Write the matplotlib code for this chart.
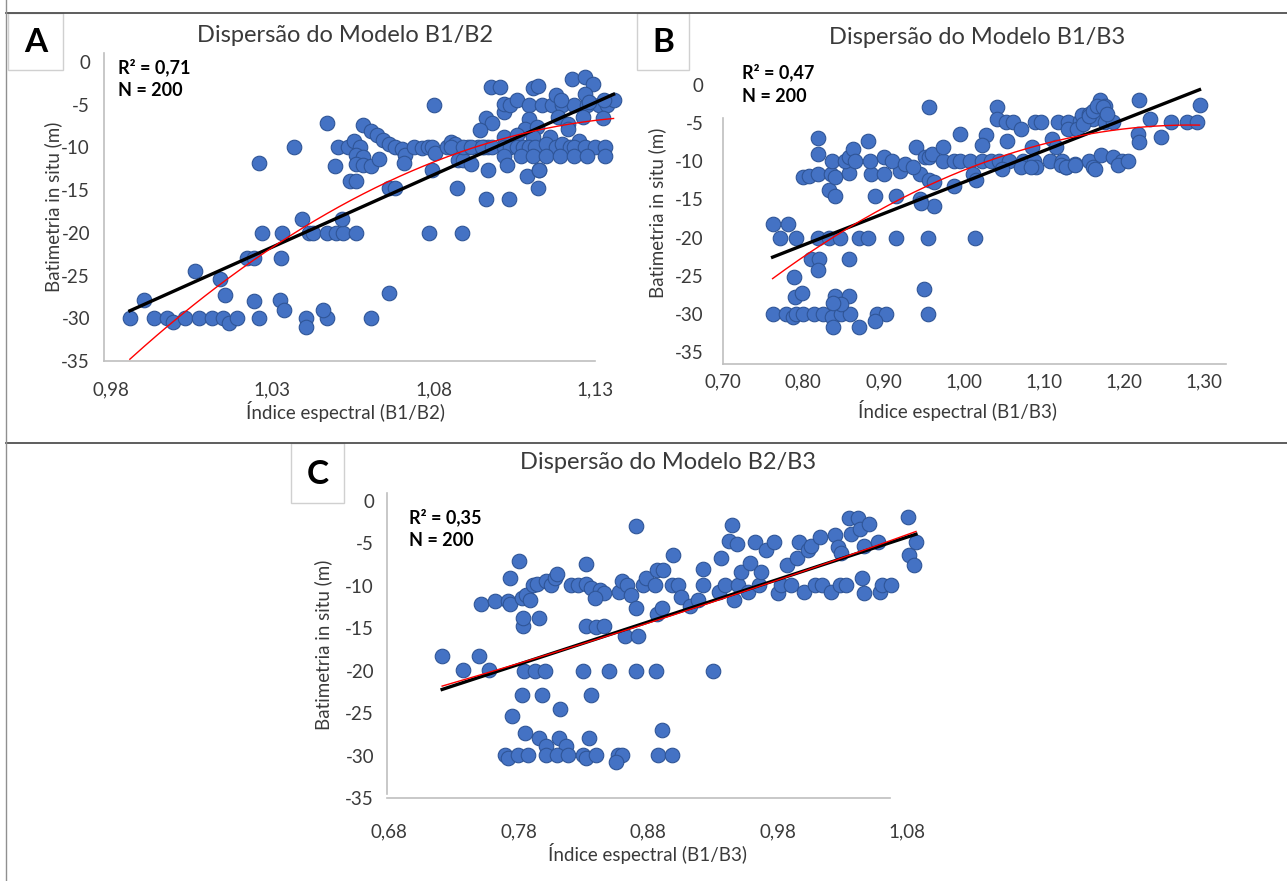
import numpy as np
import matplotlib
matplotlib.use('Agg')
import matplotlib.pyplot as plt
from matplotlib.patches import Rectangle
from matplotlib.lines import Line2D

plt.rcParams['font.family'] = ['Lato', 'DejaVu Sans']

# ---- dados ----
y_ticks = [0, -5, -10, -15, -20, -25, -30, -35]
a_ticks = [0.98, 1.03, 1.08, 1.13]
b_ticks = [0.70, 0.80, 0.90, 1.00, 1.10, 1.20, 1.30]
c_ticks = [0.68, 0.78, 0.88, 0.98, 1.08]

a_x = [0.986, 0.9936, 0.9975, 0.9994, 1.0032, 1.0073, 1.0115, 1.0147, 1.0166, 1.0191, 1.0261, 1.0405, 1.0469, 1.0605, 1.0405,
       0.9904, 1.0245, 1.0325, 1.0338, 1.0459, 1.0663, 1.0061, 1.0138, 1.0153, 1.0223, 1.0245, 1.0327,
       1.0268, 1.0331, 1.0414, 1.0427, 1.0469, 1.0497, 1.0520, 1.0561, 1.0787, 1.0889,
       1.0392, 1.0516, 1.0259, 1.0367, 1.0471, 1.0494, 1.0541, 1.0561,
       1.0503, 1.0535, 1.0554, 1.0573, 1.0561, 1.0580, 1.0561, 1.0580, 1.0605, 1.0631,
       1.0582, 1.0605, 1.0624, 1.0643, 1.0662, 1.0682, 1.0701, 1.0713, 1.0739, 1.0764, 1.0784, 1.0796, 1.0803, 1.0707,
       1.0662, 1.0682, 1.0800, 1.0796,
       1.0841, 1.0854, 1.0866, 1.0877, 1.0892, 1.0917, 1.0905, 1.0936, 1.0956, 1.0968,
       1.0873, 1.0962, 1.1032, 1.0968, 1.0978, 1.1006, 1.0962, 1.0981, 1.0943,
       1.1019, 1.1019, 1.1038, 1.1057, 1.1089, 1.1127, 1.1124, 1.1108, 1.1124,
       1.1096, 1.1134, 1.1166, 1.1198, 1.1236, 1.1274, 1.1312, 1.1338, 1.1357,
       1.1178, 1.1195, 1.1229, 1.1268, 1.1293, 1.1268, 1.1280, 1.1327,
       1.1096, 1.1185, 1.1217, 1.1261, 1.1325, 1.1083, 1.1121, 1.1217,
       1.1019, 1.1057, 1.1108, 1.1159, 1.1249,
       1.0854, 1.0892, 1.0917, 1.0949, 1.0981, 1.1019, 1.1038, 1.1057, 1.1077, 1.1096,
       1.1115, 1.1147, 1.1178, 1.1198, 1.1223, 1.1236, 1.1268, 1.1300, 1.1331,
       1.1019, 1.1070, 1.1108, 1.1147, 1.1191, 1.1236, 1.1274, 1.1331, 1.1026, 1.1127]
a_y = [-30, -30, -30, -30.4, -30, -30, -30, -30, -30.5, -30, -30, -30, -30, -30, -31,
       -27.9, -28, -27.9, -29, -29, -27, -24.5, -25.4, -27.3, -22.9, -22.9, -22.9,
       -20, -20, -20, -20, -20, -20, -20, -20, -20, -20,
       -18.4, -18.4, -11.8, -10, -7.1, -12.2, -13.9, -13.9,
       -10, -10, -9.2, -10, -10.9, -11.1, -11.9, -12.1, -12.2, -11.4,
       -7.4, -8.1, -8.6, -9.1, -9.6, -10, -10.2, -10.9, -10, -10.1, -10, -10, -10.7, -11.8,
       -14.7, -14.8, -5, -12.6,
       -10, -9.4, -9.6, -11.5, -11.5, -11.9, -10, -10, -10, -10,
       -14.8, -16, -16, -12.6, -2.9, -2.9, -6.6, -7.2, -8,
       -5.9, -4.9, -5, -4.5, -13.3, -12.6, -14.8, -3, -2.8,
       -5, -5, -5, -5, -5, -5, -5, -5, -4.5,
       -3.9, -4.5, -2.0, -1.8, -2.6, -3.7, -4.7, -4.5,
       -6.7, -6.4, -7.3, -6.4, -6.6, -7.8, -7.6, -7.8,
       -8.8, -8.6, -8.8, -8.8, -9.2,
       -10, -10, -10, -10, -10, -10, -10, -10, -10, -10,
       -10, -9.6, -10, -9.6, -10, -10, -10, -10, -10,
       -11, -11, -11, -11, -11, -11, -11, -11, -12.1, -12.7]

b_x = [0.7618, 0.7781, 0.7873, 0.7909, 0.8001, 0.8139, 0.8241, 0.8353, 0.8471, 0.8588, 0.8915, 0.9033, 0.9559,
       0.8895, 0.8369, 0.8701, 0.7894, 0.7986, 0.8394, 0.8573, 0.8471, 0.8369, 0.9508,
       0.7884, 0.8098, 0.8200, 0.8573, 0.8190,
       0.7705, 0.7909, 0.8190, 0.8318, 0.8456, 0.8701, 0.8803, 0.9160, 0.9559, 1.0141,
       0.7618, 0.7807, 0.8318, 0.8394, 0.8890, 0.9160, 0.9452, 0.9630, 0.9467,
       0.8001, 0.8078, 0.8180, 0.8343, 0.8394, 0.8573, 0.8839, 0.9007, 0.9201, 0.9457,
       0.8359, 0.8522, 0.8573, 0.8624, 0.8650, 0.8828, 0.9007, 0.9109, 0.9263, 0.9365, 0.9406, 0.9518, 0.9569, 0.9610,
       0.9748, 0.9875, 0.9952, 1.0080, 1.0233, 1.0335, 1.0437, 1.0565, 1.0744, 1.0871,
       1.0907, 1.1076, 1.1229, 1.1280, 1.1382, 1.1561, 1.1612, 1.1714, 1.1867, 1.1969,
       0.8190, 0.8190, 0.8803, 0.9748,
       0.9569, 1.0412, 1.2184, 1.1704, 1.2940, 1.1765,
       1.0412, 1.0529, 1.0616, 1.0887, 1.0958, 1.1178, 1.1305, 1.1448, 1.1612, 1.1765, 1.1867, 1.2327, 1.2582, 1.2787, 1.2914,
       1.1469, 1.1561, 1.0718, 1.1305, 0.9952, 1.0274, 1.0539, 1.1101, 1.0223, 1.0846, 1.1152,
       1.1637, 1.1929, 1.2046, 1.2174, 1.2189, 1.2455,
       0.9569, 0.9630, 1.0121, 1.0156, 0.9875, 1.0473, 1.0718, 1.0836, 1.1213, 1.1280, 1.1382,
       1.1408, 1.1484, 1.1561, 1.1612, 1.1663, 1.1740, 1.1791]
b_y = [-30, -30, -30.4, -30, -30, -30, -30, -30.4, -30, -30, -30, -30, -30,
       -30.9, -31.7, -31.7, -27.8, -27.3, -27.6, -27.6, -28.7, -28.6, -26.8,
       -25.2, -22.8, -22.8, -22.8, -24.3,
       -20, -20, -20, -20, -20, -20, -20, -20, -20, -20,
       -18.2, -18.2, -13.8, -14.6, -14.6, -14.6, -14.9, -15.8, -15.5,
       -12.0, -11.9, -11.6, -11.6, -12.0, -11.5, -11.6, -11.6, -11.3, -11.6,
       -10, -10, -9.4, -8.4, -10, -10, -9.5, -10, -10.4, -10.7, -8.1, -9.4, -9.4, -9.1,
       -10, -10, -10, -10, -10, -10, -10, -10, -10, -10,
       -10.7, -10, -10, -10.7, -10.3, -10, -10.7, -9.2, -9.5, -10,
       -9.1, -6.9, -7.4, -8.1,
       -2.9, -2.9, -1.9, -2.0, -2.6, -2.8,
       -4.5, -4.9, -4.9, -4.9, -4.9, -4.9, -4.9, -4.7, -4.5, -4.8, -4.9, -4.5, -4.9, -4.9, -4.9,
       -3.9, -3.8, -5.8, -5.8, -6.4, -6.6, -7.3, -7.1, -7.8, -8.1, -8.1,
       -11.0, -10.5, -9.9, -6.4, -7.5, -6.8,
       -12.5, -12.7, -11.7, -12.5, -13.3, -11.0, -10.7, -10.7, -10.5, -10.7, -10.5,
       -5.8, -5.1, -4.0, -3.4, -2.7, -2.9, -3.8]

c_x = [0.7209, 0.7371, 0.7493, 0.7569, 0.7510, 0.7614, 0.7718, 0.7735, 0.7735, 0.7804,
       0.7839, 0.7926, 0.8005, 0.8296, 0.8497, 0.8705, 0.8861, 0.9300,
       0.7822, 0.7984, 0.7752, 0.8116, 0.8358,
       0.7849, 0.7960, 0.8109, 0.8341, 0.8906, 0.8012, 0.8168,
       0.7694, 0.7718, 0.7797, 0.7874, 0.8012, 0.8099, 0.8178, 0.8296, 0.8324, 0.8400, 0.8566, 0.8601, 0.8878, 0.8982, 0.8549,
       0.7832, 0.7832, 0.7960, 0.8317, 0.8400, 0.8462, 0.8618, 0.8722,
       0.7822, 0.7856, 0.7891, 0.7908, 0.7943, 0.8012, 0.8047, 0.8081, 0.8099,
       0.8203, 0.8261, 0.8317, 0.8324, 0.8358, 0.8428, 0.8462, 0.8393, 0.8573, 0.8601, 0.8635, 0.8670, 0.8705,
       0.8757, 0.8781, 0.8850, 0.8871, 0.8913, 0.8871, 0.8906, 0.8982, 0.9034, 0.9051, 0.9120, 0.9183, 0.9224, 0.8989, 0.9224, 0.8705,
       0.9345, 0.9363, 0.9397, 0.9425, 0.9449, 0.9460, 0.9484, 0.9494, 0.9519, 0.9571, 0.9588, 0.9623, 0.9657, 0.9674, 0.9709, 0.9771,
       0.9806, 0.9830, 0.9875, 0.9900, 0.9951, 0.9969, 1.0003, 1.0038, 1.0055, 1.0090, 1.0125, 1.0142, 1.0211, 1.0246, 1.0263, 1.0280, 1.0291,
       1.0332, 1.0350, 1.0367, 1.0419, 1.0436, 1.0454, 1.0471, 1.0471, 1.0506, 1.0575, 1.0592, 1.0609, 1.0679, 1.0810, 1.0817, 1.0852, 1.0869]
c_y = [-18.3, -19.9, -18.3, -19.9, -12.2, -11.8, -11.8, -12.2, -9.1, -7.1,
       -20, -20, -20, -20, -20, -20, -20, -20,
       -22.9, -22.9, -25.4, -24.5, -22.9,
       -27.3, -27.9, -27.9, -27.9, -27.0, -28.9, -28.9,
       -29.9, -30.3, -29.9, -29.9, -29.9, -29.9, -29.9, -29.9, -30.3, -29.9, -29.9, -29.9, -29.9, -29.9, -30.8,
       -14.8, -13.8, -13.8, -14.8, -14.9, -14.8, -15.9, -15.9,
       -11.5, -11.1, -11.7, -9.9, -9.8, -9.5, -9.9, -9.1, -8.6,
       -9.9, -9.9, -7.5, -9.8, -10.3, -10.5, -10.9, -11.5, -10.7, -9.5, -9.9, -11.1, -12.6,
       -9.9, -9.1, -9.9, -8.2, -8.2, -13.4, -12.6, -9.9, -9.9, -11.3, -12.4, -11.7, -9.9, -6.4, -8.0, -3.0,
       -10.7, -6.8, -9.9, -4.7, -2.9, -11.7, -5.1, -9.9, -8.4, -10.7, -7.3, -4.9, -9.9, -8.4, -5.8, -4.9,
       -10.9, -9.9, -7.6, -9.9, -6.8, -4.9, -10.7, -5.8, -5.3, -9.9, -4.3, -9.9, -10.7, -4.1, -5.4, -9.9, -6.2,
       -9.9, -2.1, -3.9, -2.1, -3.3, -9.1, -10.9, -5.3, -2.8, -4.9, -10.7, -9.9, -9.9, -1.9, -6.4, -7.6, -4.9]

# ---- layout (pixels) ----
W, H = 1287, 881
fig = plt.figure(figsize=(W / 100, H / 100), dpi=100)
fig.patch.set_facecolor('white')


def fx(px):
    return px / W


def fy(py):
    return 1 - py / H


def fmt(v):
    return f'{v:.2f}'.replace('.', ',')


panels = [
    dict(letter='A', title='Dispersão do Modelo B1/B2', xlabel='Índice espectral (B1/B2)',
         x=a_x, y=a_y, r2='0,71', ticks=a_ticks, xlim=(0.978, 1.138), ylim=(-35, 1.05),
         box=(104, 53, 621, 361), xspan=(0.978, 1.13), yspan=(-35, 1.05),
         title_xy=(345, 35), xlab_xy=(346, 412), ylab_xy=(53, 207), r2_xy=(118, 67),
         letter_box=(8, 13, 63, 70), xpad=15, ypad=10),
    dict(letter='B', title='Dispersão do Modelo B1/B3', xlabel='Índice espectral (B1/B3)',
         x=b_x, y=b_y, r2='0,47', ticks=b_ticks, xlim=(0.70, 1.327), ylim=(-36.57, 3.28),
         box=(723, 60, 1226, 364), xspan=(0.70, 1.327), yspan=(-36.57, -4.3),
         title_xy=(977, 37), xlab_xy=(957, 410), ylab_xy=(657, 213), r2_xy=(742, 72),
         letter_box=(637, 13, 689, 70), xpad=7, ypad=14),
    dict(letter='C', title='Dispersão do Modelo B2/B3', xlabel='Índice espectral (B1/B3)',
         x=c_x, y=c_y, r2='0,35', ticks=c_ticks, xlim=(0.678, 1.09), ylim=(-34.5, 0.9),
         box=(386.6, 493, 920, 798), xspan=(0.678, 1.067), yspan=(-34.5, 0.9),
         title_xy=(668, 463), xlab_xy=(647, 853), ylab_xy=(323, 645), r2_xy=(409, 517),
         letter_box=(291, 443, 344, 503), xpad=18, ypad=9),
]

txt_color = '#3a3a3a'
for p in panels:
    l, t, r, b = p['box']
    ax = fig.add_axes([fx(l), fy(b), fx(r) - fx(l), fy(t) - fy(b)])
    ax.set_facecolor('none')
    ax.scatter(p['x'], p['y'], s=110, color='#4472c4', edgecolor='#2f5597',
               linewidth=0.8, zorder=2, clip_on=False)

    # linhas de tendência (linear e polinomial de 2ª ordem)
    xs = np.linspace(min(p['x']), max(p['x']), 200)
    lin = np.polyfit(p['x'], p['y'], 1)
    quad = np.polyfit(p['x'], p['y'], 2)
    ax.plot(xs, np.polyval(lin, xs), color='black', lw=2.4, zorder=3)
    ax.plot(xs, np.polyval(quad, xs), color='#ff0000', lw=1.0, zorder=4)

    ax.set_xlim(*p['xlim'])
    ax.set_ylim(*p['ylim'])
    ax.set_xticks(p['ticks'])
    ax.set_xticklabels([fmt(v) for v in p['ticks']])
    ax.set_yticks(y_ticks)
    ax.set_yticklabels([str(v) for v in y_ticks])
    ax.tick_params(length=0, labelsize=13.5, labelcolor=txt_color)
    ax.tick_params(axis='x', pad=p['xpad'])
    ax.tick_params(axis='y', pad=p['ypad'])
    for side in ['top', 'right']:
        ax.spines[side].set_visible(False)
    for side in ['left', 'bottom']:
        ax.spines[side].set_color('#bfbfbf')
        ax.spines[side].set_linewidth(1.2)
    ax.spines['bottom'].set_bounds(*p['xspan'])
    ax.spines['left'].set_bounds(*p['yspan'])

    fig.text(fx(p['title_xy'][0]), fy(p['title_xy'][1]), p['title'], fontsize=17,
             color=txt_color, ha='center', va='center')
    fig.text(fx(p['xlab_xy'][0]), fy(p['xlab_xy'][1]), p['xlabel'], fontsize=13.5,
             color=txt_color, ha='center', va='center')
    fig.text(fx(p['ylab_xy'][0]), fy(p['ylab_xy'][1]), 'Batimetria in situ (m)', fontsize=13.5,
             color=txt_color, ha='center', va='center', rotation=90)
    fig.text(fx(p['r2_xy'][0]), fy(p['r2_xy'][1]), 'R² = ' + p['r2'], fontsize=13,
             fontweight='bold', color='black', ha='left', va='center')
    fig.text(fx(p['r2_xy'][0]), fy(p['r2_xy'][1] + 24), 'N = 200', fontsize=13,
             fontweight='bold', color='black', ha='left', va='center')

    bl, bt, br, bb = p['letter_box']
    fig.add_artist(Rectangle((fx(bl), fy(bb)), fx(br) - fx(bl), fy(bt) - fy(bb),
                             transform=fig.transFigure, facecolor='white',
                             edgecolor='#d0d0d0', lw=1.0))
    fig.text(fx((bl + br) / 2), fy((bt + bb) / 2 + 1), p['letter'], fontsize=24,
             fontweight='bold', color='black', ha='center', va='center')

# separadores da figura
fig.add_artist(Line2D([fx(6), fx(W)], [fy(13), fy(13)], transform=fig.transFigure,
                      color='#505050', lw=1.3))
fig.add_artist(Line2D([fx(6), fx(W)], [fy(443), fy(443)], transform=fig.transFigure,
                      color='#505050', lw=1.3))
fig.add_artist(Line2D([fx(6), fx(6)], [fy(0), fy(H)], transform=fig.transFigure,
                      color='#909090', lw=1.0))

fig.savefig('out.png', dpi=100)
